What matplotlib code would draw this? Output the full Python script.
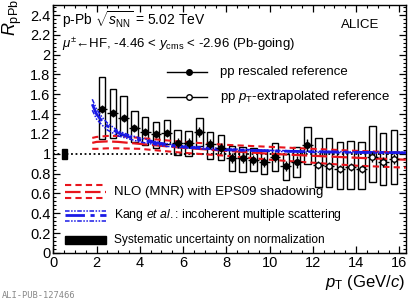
import matplotlib
matplotlib.use("Agg")
import matplotlib.pyplot as plt
from matplotlib.ticker import MultipleLocator
from matplotlib.patches import Rectangle

plt.rcParams['font.family'] = ['Liberation Sans', 'DejaVu Sans']
plt.rcParams['mathtext.fontset'] = 'custom'
plt.rcParams['mathtext.rm'] = 'Liberation Sans'
plt.rcParams['mathtext.it'] = 'Liberation Sans:italic'
plt.rcParams['mathtext.bf'] = 'Liberation Sans:bold'

# ---- data: pp rescaled reference (filled markers) ----
pt_res = [2.25, 2.75, 3.25, 3.75, 4.25, 4.75, 5.25, 5.75, 6.25, 6.75,
          7.25, 7.75, 8.25, 8.75, 9.25, 9.75, 10.25, 10.75, 11.25, 11.75]
r_res = [1.45, 1.41, 1.36, 1.26, 1.22, 1.20, 1.21, 1.11, 1.11, 1.22,
         1.10, 1.06, 0.96, 0.96, 0.94, 0.92, 0.97, 0.88, 0.92, 1.09]
stat_res = [0.04, 0.04, 0.04, 0.04, 0.04, 0.04, 0.04, 0.05, 0.05, 0.05,
            0.05, 0.05, 0.05, 0.05, 0.05, 0.05, 0.05, 0.05, 0.06, 0.06]
sys_lo_res = [1.15, 1.16, 1.19, 1.12, 1.09, 1.06, 1.10, 0.99, 0.98, 1.08,
              0.95, 0.94, 0.83, 0.82, 0.83, 0.80, 0.83, 0.74, 0.77, 0.90]
sys_hi_res = [1.77, 1.65, 1.58, 1.43, 1.37, 1.32, 1.34, 1.24, 1.23, 1.36,
              1.22, 1.19, 1.08, 1.07, 1.06, 1.04, 1.11, 1.00, 1.07, 1.27]

# ---- data: pp pT-extrapolated reference (open markers) ----
pt_ext = [12.25, 12.75, 13.25, 13.75, 14.25, 14.75, 15.25, 15.75]
r_ext = [0.89, 0.88, 0.85, 0.87, 0.85, 0.97, 0.92, 0.95]
stat_ext = [0.04, 0.04, 0.04, 0.04, 0.04, 0.05, 0.05, 0.05]
sys_lo_ext = [0.66, 0.66, 0.64, 0.64, 0.64, 0.72, 0.68, 0.70]
sys_hi_ext = [1.16, 1.16, 1.12, 1.13, 1.12, 1.28, 1.21, 1.24]

# ---- models ----
nlo_pt = [1.8, 2.0, 2.5, 3.0, 4.0, 5.0, 6.0, 8.0, 10.0, 12.0, 14.0, 16.3]
nlo_c = [1.11, 1.12, 1.125, 1.12, 1.10, 1.08, 1.06, 1.03, 1.00, 0.98, 0.96, 0.94]
nlo_hi = [1.16, 1.17, 1.18, 1.18, 1.16, 1.14, 1.12, 1.09, 1.07, 1.05, 1.03, 1.01]
nlo_lo = [1.05, 1.05, 1.055, 1.055, 1.05, 1.03, 1.01, 0.98, 0.94, 0.91, 0.88, 0.86]

kang_pt = [1.8, 2.0, 2.25, 2.5, 3.0, 3.5, 4.0, 5.0, 6.0, 8.0, 10.0, 12.0, 14.0, 16.3]
kang_c = [1.50, 1.40, 1.33, 1.28, 1.21, 1.17, 1.14, 1.10, 1.07, 1.04, 1.03, 1.02, 1.015, 1.01]
kang_hi = [1.55, 1.45, 1.37, 1.31, 1.23, 1.19, 1.16, 1.11, 1.08, 1.05, 1.035, 1.025, 1.02, 1.015]
kang_lo = [1.44, 1.35, 1.29, 1.24, 1.18, 1.15, 1.12, 1.08, 1.06, 1.035, 1.025, 1.015, 1.01, 1.005]

norm_pt = 0.5
norm_unc = 0.05

fig = plt.figure(figsize=(4.15, 3.0), dpi=100)
ax = fig.add_axes([0.1285, 0.157, 0.8495, 0.826])
ax.set_xlim(0, 16.3)
ax.set_ylim(0, 2.5)

# reference line at 1
ax.plot([0, 16.3], [1, 1], color='black', ls=(0, (1, 1.5)), lw=1.3, zorder=2)

# normalization uncertainty
ax.add_patch(Rectangle((norm_pt - 0.12, 1 - norm_unc), 0.24, 2 * norm_unc,
                       facecolor='black', edgecolor='black', zorder=3))

# systematic boxes
bw = 0.15
for x, lo, hi in zip(pt_res + pt_ext, sys_lo_res + sys_lo_ext, sys_hi_res + sys_hi_ext):
    ax.add_patch(Rectangle((x - bw, lo), 2 * bw, hi - lo, facecolor='none',
                           edgecolor='black', lw=1.0, zorder=3))

# models
ax.plot(nlo_pt, nlo_hi, color='#e8141c', lw=1.5, ls=(0, (3, 2)), zorder=4)
ax.plot(nlo_pt, nlo_lo, color='#e8141c', lw=1.5, ls=(0, (3, 2)), zorder=4)
ax.plot(nlo_pt, nlo_c, color='#e8141c', lw=1.6, ls=(0, (7, 2)), zorder=4)
ax.plot(kang_pt, kang_hi, color='#1a1ae6', lw=1.1, ls=(0, (3, 1, 1, 1, 1, 1)), zorder=4)
ax.plot(kang_pt, kang_lo, color='#1a1ae6', lw=1.1, ls=(0, (3, 1, 1, 1, 1, 1)), zorder=4)
ax.plot(kang_pt, kang_c, color='#1a1ae6', lw=2.0, ls=(0, (7, 2, 1.5, 2)), zorder=4)

# data points
ax.errorbar(pt_res, r_res, yerr=stat_res, xerr=0.25, fmt='o', color='black',
            ms=4, lw=1.0, capsize=0, zorder=6)
ax.errorbar(pt_ext, r_ext, yerr=stat_ext, xerr=0.25, fmt='o', color='black',
            mfc='white', mec='black', ms=4, lw=1.0, capsize=0, zorder=6)

# ticks
ax.xaxis.set_minor_locator(MultipleLocator(0.5))
ax.yaxis.set_minor_locator(MultipleLocator(0.04))
ax.tick_params(which='both', direction='in', top=True, right=True, labelsize=10.5, pad=2)
ax.tick_params(which='major', length=5, width=0.9)
ax.tick_params(which='minor', length=2.5, width=0.8)
ax.set_xticks([0, 2, 4, 6, 8, 10, 12, 14, 16])
ax.set_xticklabels(['0', '2', '4', '6', '8', '10', '12', '14', '16'])
yt = [0, 0.2, 0.4, 0.6, 0.8, 1.0, 1.2, 1.4, 1.6, 1.8, 2.0, 2.2, 2.4]
ax.set_yticks(yt)
ax.set_yticklabels(['0', '0.2', '0.4', '0.6', '0.8', '1', '1.2', '1.4', '1.6',
                    '1.8', '2', '2.2', '2.4'])
for s in ax.spines.values():
    s.set_linewidth(1.0)

# texts
ax.text(0.025, 0.94, r'p-Pb $\sqrt{s_{\rm NN}}$ = 5.02 TeV', transform=ax.transAxes,
        fontsize=10, va='center', ha='left')
ax.text(0.025, 0.843, r'$\mu^{\pm}$←HF, -4.46 < $y_{\rm cms}$ < -2.96 (Pb-going)',
        transform=ax.transAxes, fontsize=9.5, va='center', ha='left',
        family=['Liberation Sans', 'DejaVu Sans'])
ax.text(0.87, 0.92, 'ALICE', transform=ax.transAxes, fontsize=9.5, va='center', ha='center')

# top-right legend
for yy, mfc, lab in [(0.731, 'black', 'pp rescaled reference'),
                     (0.630, 'white', r'pp $p_{\rm T}$-extrapolated reference')]:
    ax.plot([0.322, 0.436], [yy, yy], color='black', lw=1.0, transform=ax.transAxes, zorder=7)
    ax.plot([0.385], [yy], 'o', color='black', mfc=mfc, ms=4, transform=ax.transAxes, zorder=8)
    ax.text(0.473, yy, lab, transform=ax.transAxes, fontsize=9.5, va='center', ha='left')

# bottom-left legend
x0, x1 = 0.033, 0.150
ax.plot([x0, x1], [0.272, 0.272], color='#e8141c', lw=1.5, ls=(0, (3, 2)), transform=ax.transAxes)
ax.plot([x0, x1], [0.222, 0.222], color='#e8141c', lw=1.5, ls=(0, (3, 2)), transform=ax.transAxes)
ax.plot([x0, x1], [0.247, 0.247], color='#e8141c', lw=1.6, ls=(0, (7, 2)), transform=ax.transAxes)
ax.text(0.171, 0.247, 'NLO (MNR) with EPS09 shadowing', transform=ax.transAxes,
        fontsize=9.5, va='center', ha='left')
ax.plot([x0, x1], [0.170, 0.170], color='#1a1ae6', lw=1.1, ls=(0, (3, 1, 1, 1, 1, 1)), transform=ax.transAxes)
ax.plot([x0, x1], [0.128, 0.128], color='#1a1ae6', lw=1.1, ls=(0, (3, 1, 1, 1, 1, 1)), transform=ax.transAxes)
ax.plot([x0, x1], [0.152, 0.152], color='#1a1ae6', lw=2.0, ls=(0, (7, 2, 1.5, 2)), transform=ax.transAxes)
ax.text(0.171, 0.152, r'Kang $\it{et\ al.}$: incoherent multiple scattering', transform=ax.transAxes,
        fontsize=8.8, va='center', ha='left')
ax.add_patch(Rectangle((x0, 0.036), x1 - x0, 0.034, transform=ax.transAxes,
                       facecolor='black', edgecolor='black'))
ax.text(0.171, 0.053, 'Systematic uncertainty on normalization', transform=ax.transAxes,
        fontsize=8.6, va='center', ha='left')

# axis labels
fig.text(12 / 415, 1 - 18 / 300, r'$R_{\rm pPb}$', rotation=90, fontsize=13,
         ha='center', va='center')
fig.text(405 / 415, 1 - 283 / 300, r'$p_{\rm T}$ (GeV/$c$)', fontsize=12,
         ha='right', va='center')
fig.text(2 / 415, 1 - 295 / 300, 'ALI-PUB-127466', fontsize=6.3, color='#888888',
         family='DejaVu Sans Mono', ha='left', va='center')

fig.savefig('out.png', dpi=100)
